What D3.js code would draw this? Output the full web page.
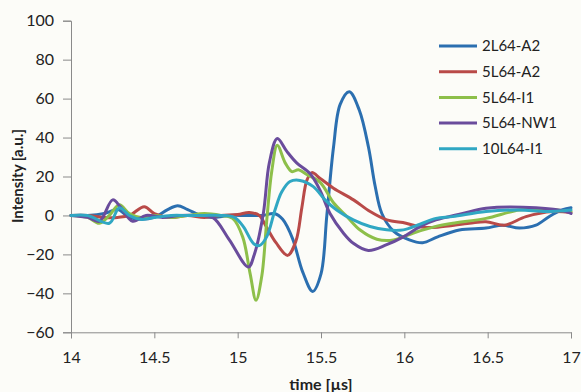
<!DOCTYPE html>
<html><head><meta charset="utf-8">
<script src="https://cdn.jsdelivr.net/npm/d3@7/dist/d3.min.js"></script>
<style>
html,body{margin:0;padding:0;background:#fcfcf8;}
svg{display:block;}
text{font-family:Lato,"Open Sans",sans-serif;fill:#222;}
</style></head>
<body>
<svg id="chart" width="581" height="392"></svg>
<script>
const seriesNames = ["2L64-A2","5L64-A2","5L64-I1","5L64-NW1","10L64-I1"];
const seriesColors = ["#2b6fb0","#b94a48","#8dbf4a","#6a4c9c","#30a7c3"];
const xTicks = [14,14.5,15,15.5,16,16.5,17];
const yTicks = [-60,-40,-20,0,20,40,60,80,100];

const s2L64A2 = [[14,0],[14.1,0],[14.2,1],[14.28,3],[14.35,-1],[14.42,-2],[14.5,-1],[14.58,3],[14.64,5],[14.7,3],[14.78,0],[14.85,-1],[14.95,0],[15.05,0],[15.15,0],[15.22,1],[15.27,-2],[15.33,-12],[15.39,-29],[15.45,-39],[15.5,-30],[15.535,0],[15.575,35],[15.615,57],[15.67,63.5],[15.73,54],[15.785,35],[15.825,15],[15.865,1],[15.935,-8],[16.03,-12.5],[16.11,-14],[16.2,-11],[16.33,-7.5],[16.49,-6.5],[16.59,-5],[16.69,-6.5],[16.79,-5],[16.87,-0.5],[16.95,3],[17,4]];
const s5L64A2 = [[14,0],[14.1,0],[14.2,-1],[14.28,-1],[14.35,0],[14.44,4.5],[14.5,1],[14.6,-1],[14.7,0],[14.8,-1],[14.9,0],[15.0,0.5],[15.07,1.5],[15.13,0],[15.17,-5.5],[15.23,-14],[15.3,-20.5],[15.35,-13],[15.385,4],[15.415,18],[15.445,22],[15.495,19],[15.575,14],[15.695,8],[15.795,2],[15.895,-2.3],[16.01,-4],[16.1,-6],[16.2,-6],[16.39,-4],[16.49,-3.2],[16.6,-5],[16.73,-0.6],[16.89,2],[17,1.5]];
const s5L64I1 = [[14,0],[14.1,-1],[14.17,-4],[14.23,0],[14.29,5.5],[14.35,1],[14.42,-1],[14.5,0],[14.6,-1],[14.7,0],[14.8,1],[14.9,0],[14.97,-1.5],[15.03,-11],[15.075,-30],[15.11,-43.5],[15.145,-31],[15.175,-2],[15.205,23],[15.238,36],[15.285,27],[15.325,22.5],[15.365,23.5],[15.415,21],[15.495,17],[15.575,6.5],[15.655,-0.5],[15.735,-7.5],[15.835,-12.2],[15.935,-12.6],[16.055,-9],[16.195,-5.5],[16.29,-4],[16.49,-1.5],[16.69,2.8],[16.85,3],[17,2]];
const s5L64NW1 = [[14,0],[14.1,-1],[14.17,-3],[14.25,8],[14.3,4],[14.37,-3],[14.45,0],[14.55,-1],[14.65,0],[14.75,0],[14.85,-1],[14.95,-12.5],[15.064,-26.5],[15.1,-20],[15.154,1],[15.19,27],[15.238,39.5],[15.294,33],[15.354,27],[15.434,21.5],[15.494,13],[15.554,1],[15.634,-9],[15.694,-14.3],[15.784,-18],[15.894,-15],[15.994,-11],[16.094,-5.7],[16.19,-2.3],[16.35,1],[16.49,3.7],[16.79,3.9],[16.97,2],[17,1]];
const s10L64I1 = [[14,0],[14.1,0],[14.23,-4],[14.29,4],[14.35,0],[14.42,-2],[14.5,-1],[14.6,0],[14.7,0],[14.8,0],[14.9,0],[14.98,-1],[15.034,-5.7],[15.094,-14.3],[15.13,-15.5],[15.174,-11],[15.224,2.8],[15.264,12],[15.314,17.4],[15.374,18],[15.454,14.8],[15.524,8],[15.594,2.8],[15.694,-2.3],[15.794,-5.7],[15.894,-7.4],[15.994,-7.4],[16.094,-4.5],[16.19,-1.5],[16.29,-0.6],[16.49,2],[16.69,2.8],[16.85,2],[17,2.8]];
const seriesData = [s2L64A2, s5L64A2, s5L64I1, s5L64NW1, s10L64I1];

const svg = d3.select("#chart");
const x = d3.scaleLinear().domain([14,17]).range([71,571]);
const y = d3.scaleLinear().domain([-60,100]).range([332.3,20.7]);

// axes
const yAxis = svg.append("g").attr("transform","translate(71,0)")
  .call(d3.axisLeft(y).tickValues(yTicks).tickSize(8).tickPadding(9).tickFormat(d3.format("d")));
const xAxis = svg.append("g").attr("transform","translate(0,332.3)")
  .call(d3.axisBottom(x).tickValues(xTicks).tickSize(6).tickPadding(13).tickFormat(d=>String(d)));
[yAxis,xAxis].forEach(g=>{
  g.select(".domain").attr("stroke","#8a8a8a").attr("stroke-width",1);
  g.selectAll(".tick line").attr("stroke","#8a8a8a");
  g.selectAll(".tick text").attr("font-family","Lato").attr("font-size",16).attr("fill","#222");
});

// lines
const line = d3.line().x(d=>x(d[0])).y(d=>y(d[1])).curve(d3.curveCatmullRom.alpha(0.5));
svg.append("g").selectAll("path").data(seriesData).join("path")
  .attr("d",line).attr("fill","none")
  .attr("stroke",(d,i)=>seriesColors[i]).attr("stroke-width",3)
  .attr("stroke-linejoin","round").attr("stroke-linecap","round");

// titles
svg.append("text").attr("x",321).attr("y",390).attr("text-anchor","middle")
  .attr("font-size",16).attr("font-weight","bold").text("time [µs]");
svg.append("text").attr("transform","translate(23,176) rotate(-90)").attr("text-anchor","middle")
  .attr("font-size",15).attr("font-weight","bold").text("Intensity [a.u.]");

// legend
const leg = svg.append("g").selectAll("g").data(seriesNames).join("g")
  .attr("transform",(d,i)=>`translate(439,${46+i*25.7})`);
leg.append("line").attr("x1",0).attr("x2",38).attr("y1",0).attr("y2",0)
  .attr("stroke",(d,i)=>seriesColors[i]).attr("stroke-width",3);
leg.append("text").attr("x",43).attr("y",0).attr("dy","0.35em").attr("font-size",15).text(d=>d);
</script>
</body></html>
